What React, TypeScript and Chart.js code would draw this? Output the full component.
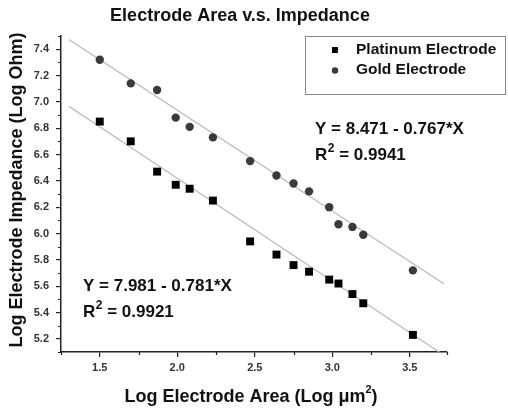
import React, { useEffect, useRef } from "react";
import { Chart, registerables } from "chart.js";

Chart.register(...registerables);

// ---- data ----
const logArea = [1.5, 1.7, 1.87, 1.99, 2.08, 2.23, 2.47, 2.64, 2.75, 2.85, 2.98, 3.04, 3.13, 3.2, 3.52];
const platinumImpedance = [6.85, 6.7, 6.47, 6.37, 6.34, 6.25, 5.94, 5.84, 5.76, 5.71, 5.65, 5.62, 5.54, 5.47, 5.23];
const goldImpedance = [7.32, 7.14, 7.09, 6.88, 6.81, 6.73, 6.55, 6.44, 6.38, 6.32, 6.2, 6.07, 6.05, 5.99, 5.72];

const platinumFit = { intercept: 7.981, slope: -0.781, r2: "0.9921" };
const goldFit = { intercept: 8.471, slope: -0.767, r2: "0.9941" };
const fitRange = [1.3, 3.72];

const xMajorTicks = [1.5, 2.0, 2.5, 3.0, 3.5];
const xMinorTicks = [1.25, 1.75, 2.25, 2.75, 3.25, 3.74];
const yMajorTicks = [5.2, 5.4, 5.6, 5.8, 6.0, 6.2, 6.4, 6.6, 6.8, 7.0, 7.2, 7.4];
const yMinorTicks = [5.1, 5.3, 5.5, 5.7, 5.9, 6.1, 6.3, 6.5, 6.7, 6.9, 7.1, 7.3, 7.5];

const seriesNames = ["Platinum Electrode", "Gold Electrode"];
const chartTitle = "Electrode Area v.s. Impedance";
const xTitle = "Log Electrode Area (Log \u03BCm";
const yTitle = "Log Electrode Impedance (Log Ohm)";

const FONT = "'Liberation Sans', Arial, sans-serif";

function fmt(v: number) {
  return v.toFixed(3);
}

const annotationPlugin = {
  id: "annotations",
  afterDraw(chart: any) {
    const ctx: CanvasRenderingContext2D = chart.ctx;
    const xs = chart.scales.x;
    const ys = chart.scales.y;
    const area = chart.chartArea;
    ctx.save();

    // minor ticks
    ctx.strokeStyle = "#222";
    ctx.lineWidth = 1.2;
    ctx.beginPath();
    xMinorTicks.forEach((v) => {
      const px = Math.round(xs.getPixelForValue(v)) + 0.5;
      ctx.moveTo(px, area.bottom);
      ctx.lineTo(px, area.bottom + 3);
    });
    yMinorTicks.forEach((v) => {
      const py = Math.round(ys.getPixelForValue(v)) + 0.5;
      ctx.moveTo(area.left, py);
      ctx.lineTo(area.left - 3, py);
    });
    ctx.stroke();

    ctx.fillStyle = "#111";
    ctx.textBaseline = "middle";

    // title
    ctx.font = `bold 18px ${FONT}`;
    ctx.textAlign = "center";
    ctx.fillText(chartTitle, 240, 16);

    // x title with superscript
    ctx.font = `bold 18px ${FONT}`;
    const mainW = ctx.measureText(xTitle).width;
    ctx.font = `bold 11px ${FONT}`;
    const supW = ctx.measureText("2").width;
    ctx.font = `bold 18px ${FONT}`;
    const closeW = ctx.measureText(")").width;
    const total = mainW + supW + closeW;
    let sx = 251 - total / 2;
    ctx.textAlign = "left";
    ctx.fillText(xTitle, sx, 397);
    sx += mainW;
    ctx.font = `bold 11px ${FONT}`;
    ctx.fillText("2", sx, 390);
    sx += supW;
    ctx.font = `bold 18px ${FONT}`;
    ctx.fillText(")", sx, 397);

    // y title
    ctx.save();
    ctx.translate(17.5, 190);
    ctx.rotate(-Math.PI / 2);
    ctx.textAlign = "center";
    ctx.font = `bold 18px ${FONT}`;
    ctx.fillText(yTitle, 0, 0);
    ctx.restore();

    // legend
    ctx.strokeStyle = "#888";
    ctx.lineWidth = 1;
    ctx.strokeRect(305.5, 36.5, 200, 58);
    ctx.fillStyle = "#000";
    ctx.fillRect(332, 47, 6, 6);
    ctx.fillStyle = "#3a3a3a";
    ctx.beginPath();
    ctx.arc(335, 70.5, 3.2, 0, Math.PI * 2);
    ctx.fill();
    ctx.fillStyle = "#111";
    ctx.textAlign = "left";
    ctx.font = `bold 15.5px ${FONT}`;
    ctx.fillText(seriesNames[0], 356, 50);
    ctx.fillText(seriesNames[1], 356, 70);

    // equations
    const drawEq = (fit: any, x: number, y1: number, y2: number) => {
      ctx.textAlign = "left";
      ctx.font = `bold 17px ${FONT}`;
      ctx.fillText(`Y = ${fmt(fit.intercept)} - ${fmt(-fit.slope)}*X`, x, y1);
      ctx.fillText("R", x, y2);
      let cx = x + ctx.measureText("R").width;
      ctx.font = `bold 12px ${FONT}`;
      ctx.fillText("2", cx + 0.5, y2 - 6);
      cx += ctx.measureText("2").width + 0.5;
      ctx.font = `bold 17px ${FONT}`;
      ctx.fillText(` = ${fit.r2}`, cx, y2);
    };
    drawEq(goldFit, 315, 129, 155);
    drawEq(platinumFit, 83, 286, 312);

    ctx.restore();
  },
};

export default function App() {
  const ref = useRef<HTMLCanvasElement | null>(null);
  useEffect(() => {
    if (!ref.current) return;
    const fitLine = (f: any) =>
      fitRange.map((x) => ({ x, y: f.intercept + f.slope * x }));
    const chart = new Chart(ref.current, {
      type: "scatter",
      data: {
        datasets: [
          {
            label: seriesNames[0],
            data: logArea.map((x, i) => ({ x, y: platinumImpedance[i] })),
            pointStyle: "rect",
            pointRadius: 5.6,
            backgroundColor: "#000",
            borderColor: "#000",
            borderWidth: 0,
            order: 1,
          } as any,
          {
            label: seriesNames[1],
            data: logArea.map((x, i) => ({ x, y: goldImpedance[i] })),
            pointStyle: "circle",
            pointRadius: 4.2,
            backgroundColor: "#3a3a3a",
            borderColor: "#3a3a3a",
            borderWidth: 0,
            order: 1,
          } as any,
          {
            label: "Platinum fit",
            data: fitLine(platinumFit),
            showLine: true,
            pointRadius: 0,
            borderColor: "#b8b8b8",
            borderWidth: 1.2,
            order: 2,
          } as any,
          {
            label: "Gold fit",
            data: fitLine(goldFit),
            showLine: true,
            pointRadius: 0,
            borderColor: "#b8b8b8",
            borderWidth: 1.2,
            order: 2,
          } as any,
        ],
      },
      options: {
        responsive: false,
        animation: false,
        layout: { padding: { top: 36, right: 61, left: 0, bottom: 0 } },
        plugins: {
          legend: { display: false },
          title: { display: false },
          tooltip: { enabled: false },
        },
        scales: {
          x: {
            type: "linear",
            min: 1.25,
            max: 3.74,
            afterBuildTicks: (s: any) => {
              s.ticks = xMajorTicks.map((v) => ({ value: v }));
            },
            afterFit: (s: any) => {
              s.height = 58;
            },
            grid: {
              drawOnChartArea: false,
              drawTicks: true,
              tickLength: 5,
              color: "#222",
              lineWidth: 1.2,
            },
            border: { display: true, color: "#222", width: 1.5 },
            ticks: {
              padding: 4,
              color: "#333",
              font: { family: FONT, size: 11, weight: "bold" },
              callback: (v: any) => Number(v).toFixed(1),
            },
          },
          y: {
            type: "linear",
            min: 5.1,
            max: 7.5,
            afterBuildTicks: (s: any) => {
              s.ticks = yMajorTicks.map((v) => ({ value: v }));
            },
            afterFit: (s: any) => {
              s.width = 61;
            },
            grid: {
              drawOnChartArea: false,
              drawTicks: true,
              tickLength: 5,
              color: "#222",
              lineWidth: 1.2,
            },
            border: { display: true, color: "#222", width: 1.5 },
            ticks: {
              padding: 7,
              color: "#333",
              font: { family: FONT, size: 11, weight: "bold" },
              callback: (v: any) => Number(v).toFixed(1),
            },
          },
        },
      } as any,
      plugins: [annotationPlugin],
    });
    return () => chart.destroy();
  }, []);
  return (
    <div style={{ position: "fixed", left: 0, top: 0, width: 508, height: 410, background: "#fff" }}>
      <canvas ref={ref} width={508} height={410} />
    </div>
  );
}
